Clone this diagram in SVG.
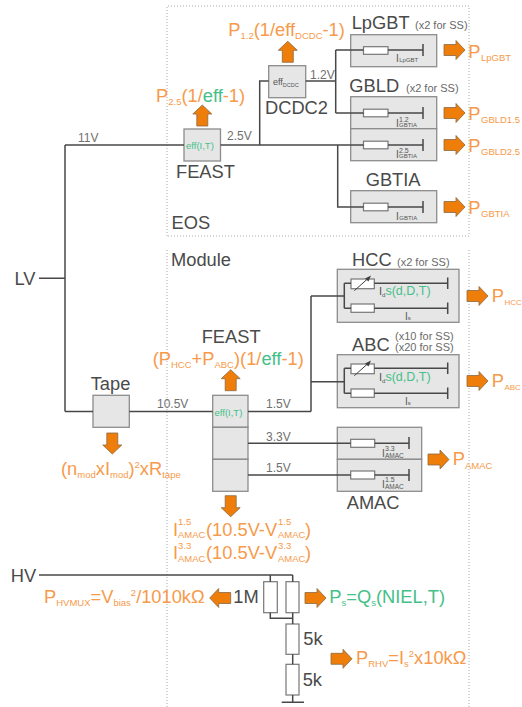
<svg xmlns="http://www.w3.org/2000/svg" width="522" height="707" viewBox="0 0 522 707">
<style>
text{font-family:"Liberation Sans",Arial,sans-serif;fill:#4a4a4a}
.o,.o tspan{fill:#f79a4a}
.g{fill:#45c088}
.t18{font-size:18.3px}
.t11{font-size:11px;fill:#6a6a6a}
.t12{font-size:12px;fill:#707070}
.lbl{font-size:18.3px;fill:#f79a4a}
.s{font-size:9.5px}
.s8{font-size:8px}
.i{font-size:10px;fill:#555}
.si{font-size:6px;fill:#555}
.box{fill:#e6e6e6;stroke:#8c8c8c;stroke-width:1.3}
.res{fill:#fff;stroke:#777;stroke-width:1.2}
.w{fill:none;stroke:#484848;stroke-width:1.5}
.dot{fill:none;stroke:#aaa;stroke-width:1;stroke-dasharray:1 2}
.arr{fill:#ee7d0a;stroke:#8a6a45;stroke-width:.8}
</style>
<defs>
<path id="a" class="arr" d="M0,-5.5H12V-9.5L21,0L12,9.5V5.5H0Z"/>
</defs>
<g id="regions">
<path class="dot" d="M167,236V6H469V236H167"/>
<path class="dot" d="M167,707V249M469,707V249"/>
<text x="171.500" y="229" class="t18">EOS</text>
<text x="171" y="266" class="t18">Module</text>
</g>
<g id="feast-eos">
<rect class="box" x="184" y="129" width="36.500" height="32"/>
<text x="186" y="148.500" style="font-size:9.500px" class="g">eff(I,T)</text>
<text x="176" y="178" class="t18">FEAST</text>
<text x="227" y="140" class="t12">2.5V</text>
<text x="78" y="141.500" class="t12">11V</text>
<use href="#a" transform="translate(202.300,126) rotate(-90)"/>
<text x="156" y="101.700" class="lbl">P<tspan class="s" dy="3">2.5</tspan><tspan dy="-3">(1/</tspan><tspan class="g">eff</tspan><tspan>-1)</tspan></text>
</g>
<g id="dcdc2">
<rect class="box" x="268.700" y="65.700" width="37" height="32"/>
<text x="273" y="85" style="font-size:9px;fill:#555">eff<tspan style="font-size:5.500px" dy="1.500">DCDC</tspan></text>
<text x="265" y="114" class="t18">DCDC2</text>
<text x="310" y="79" class="t12">1.2V</text>
<use href="#a" transform="translate(287.800,62.300) rotate(-90)"/>
<text x="228.300" y="36" class="lbl">P<tspan class="s" dy="3">1.2</tspan><tspan dy="-3">(1/eff</tspan><tspan class="s" dy="3">DCDC</tspan><tspan dy="-3">-1)</tspan></text>
</g>
<g id="lpgbt">
<rect class="box" x="350.700" y="34.700" width="86" height="32"/>
<rect class="res" x="363.500" y="46.700" width="24.500" height="7.600"/>
<text x="396" y="62" class="i">I<tspan class="si" dx="0.500">LpGBT</tspan></text>
<text x="351.700" y="29.300" class="t18">LpGBT</text>
<text x="415" y="29.300" class="t11">(x2 for SS)</text>
<use href="#a" x="444" y="50"/>
<text x="468.300" y="58" class="lbl">P<tspan class="s" dx="0.500" dy="3">LpGBT</tspan></text>
</g>
<g id="gbld">
<rect class="box" x="350.700" y="96.700" width="86" height="32"/>
<rect class="box" x="350.700" y="128.700" width="86" height="32"/>
<rect class="res" x="363.500" y="109.200" width="24.500" height="7.600"/>
<rect class="res" x="363.500" y="141.200" width="24.500" height="7.600"/>
<text x="396" y="127" class="i">I</text><text x="399" y="121.500" class="si" style="font-size:7px">1.2</text><text x="399" y="126.500" class="si">GBTIA</text>
<text x="396" y="158" class="i">I</text><text x="399" y="152.500" class="si" style="font-size:7px">2.5</text><text x="399" y="157.500" class="si">GBTIA</text>
<text x="349.300" y="92.300" class="t18">GBLD</text>
<text x="406" y="92.300" class="t11">(x2 for SS)</text>
<use href="#a" x="444" y="113"/>
<use href="#a" x="444" y="145"/>
<text x="468.300" y="120" class="lbl">P<tspan class="s" dx="0.500" dy="3">GBLD1.5</tspan></text>
<text x="468.300" y="152" class="lbl">P<tspan class="s" dx="0.500" dy="3">GBLD2.5</tspan></text>
</g>
<g id="gbtia">
<rect class="box" x="350.700" y="190.700" width="86" height="32"/>
<rect class="res" x="363.500" y="203.200" width="24.500" height="7.600"/>
<text x="396" y="220" class="i">I<tspan class="si" dx="0.500">GBTIA</tspan></text>
<text x="365.700" y="185.700" class="t18">GBTIA</text>
<use href="#a" x="444" y="207"/>
<text x="468.300" y="214" class="lbl">P<tspan class="s" dx="0.500" dy="3">GBTIA</tspan></text>
</g>
<g id="hcc">
<rect class="box" x="337.300" y="269.300" width="121.700" height="53"/>
<rect class="res" x="351" y="279" width="23.300" height="9.700"/>
<rect class="res" x="351" y="304" width="23.300" height="8.300"/>
<path d="M354.300,290.700L368,278.500" stroke="#404040" fill="none"/><path d="M371,275.500L365,278.500L368.500,281.500Z" fill="#404040"/>
<text x="379" y="295" class="i" style="font-size:11px">I<tspan class="si" dy="2">d</tspan><tspan class="g" dy="-2" style="font-size:12.500px;fill:#45c088">s(d,D,T)</tspan></text>
<text x="405" y="320" class="i">I<tspan class="si">s</tspan></text>
<text x="352" y="266" class="t18">HCC</text>
<text x="397" y="266" class="t11">(x2 for SS)</text>
<use href="#a" x="467" y="296"/>
<text x="491.700" y="302" class="lbl">P<tspan class="s8" dx="0.500" dy="3">HCC</tspan></text>
</g>
<g id="abc">
<rect class="box" x="337.300" y="354.700" width="121.700" height="53"/>
<rect class="res" x="351" y="364" width="23.300" height="9.700"/>
<rect class="res" x="351" y="389" width="23.300" height="8.300"/>
<path d="M354.300,375.700L368,363.500" stroke="#404040" fill="none"/><path d="M371,360.500L365,363.500L368.500,366.500Z" fill="#404040"/>
<text x="379" y="381" class="i" style="font-size:11px">I<tspan class="si" dy="2">d</tspan><tspan class="g" dy="-2" style="font-size:12.500px;fill:#45c088">s(d,D,T)</tspan></text>
<text x="405" y="405" class="i">I<tspan class="si">s</tspan></text>
<text x="352" y="351" class="t18">ABC</text>
<text x="395" y="340" class="t11">(x10 for SS)</text>
<text x="395" y="351" class="t11">(x20 for SS)</text>
<use href="#a" x="467" y="381"/>
<text x="491.700" y="387" class="lbl">P<tspan class="s8" dx="0.500" dy="3">ABC</tspan></text>
</g>
<g id="tape">
<rect class="box" x="93" y="395.300" width="36.300" height="32"/>
<text x="90.700" y="390" class="t18">Tape</text>
<text x="157" y="408" class="t12">10.5V</text>
<use href="#a" transform="translate(112.300,433) rotate(90)"/>
<text x="61" y="475" class="lbl">(n<tspan class="s" dy="3">mod</tspan><tspan dy="-3">xI</tspan><tspan class="s" dy="3">mod</tspan><tspan dy="-3">)</tspan><tspan class="s" dy="-7">2</tspan><tspan dy="7">xR</tspan><tspan class="s" dy="3">tape</tspan></text>
</g>
<g id="feast-module">
<rect class="box" x="212.700" y="395.300" width="35.300" height="32"/>
<rect class="box" x="212.700" y="427.300" width="35.300" height="32"/>
<rect class="box" x="212.700" y="459.300" width="35.300" height="32"/>
<text x="214.500" y="416" style="font-size:9.500px" class="g">eff(I,T)</text>
<text x="201.700" y="343" class="t18">FEAST</text>
<text x="266" y="408" class="t12">1.5V</text>
<text x="266" y="441" class="t12">3.3V</text>
<text x="266" y="472" class="t12">1.5V</text>
<use href="#a" transform="translate(230.700,390.700) rotate(-90)"/>
<use href="#a" transform="translate(230.700,495.700) rotate(90)"/>
<text x="152.700" y="365" class="lbl">(P<tspan class="s" dy="3">HCC</tspan><tspan dy="-3">+P</tspan><tspan class="s" dy="3">ABC</tspan><tspan dy="-3">)(1/</tspan><tspan class="g">eff</tspan><tspan>-1)</tspan></text>
<text x="173" y="535.700" class="lbl">I</text><text x="178" y="525" class="s" style="fill:#f79a4a">1.5</text><text x="178" y="538" class="s" style="fill:#f79a4a">AMAC</text><text x="206" y="535.700" class="lbl">(10.5V-V</text><text x="278" y="525" class="s" style="fill:#f79a4a">1.5</text><text x="278" y="538" class="s" style="fill:#f79a4a">AMAC</text><text x="305" y="535.700" class="lbl">)</text>
<text x="173" y="559" class="lbl">I</text><text x="178" y="548.500" class="s" style="fill:#f79a4a">3.3</text><text x="178" y="561.500" class="s" style="fill:#f79a4a">AMAC</text><text x="206" y="559" class="lbl">(10.5V-V</text><text x="278" y="548.500" class="s" style="fill:#f79a4a">3.3</text><text x="278" y="561.500" class="s" style="fill:#f79a4a">AMAC</text><text x="305" y="559" class="lbl">)</text>
</g>
<g id="amac">
<rect class="box" x="337.300" y="427.300" width="84.400" height="32"/>
<rect class="box" x="337.300" y="459.300" width="84.400" height="32"/>
<rect class="res" x="350.700" y="439.300" width="24" height="8"/>
<rect class="res" x="350.700" y="471" width="24" height="8"/>
<text x="382" y="457" class="i">I</text><text x="385" y="451" class="si" style="font-size:7px">3.3</text><text x="385" y="458" class="si" style="font-size:6.500px">AMAC</text>
<text x="382" y="488" class="i">I</text><text x="385" y="482" class="si" style="font-size:7px">1.5</text><text x="385" y="489" class="si" style="font-size:6.500px">AMAC</text>
<text x="346.700" y="509" class="t18">AMAC</text>
<use href="#a" x="428" y="459.500"/>
<text x="452.700" y="465" class="lbl">P<tspan class="s" dy="3.500">AMAC</tspan></text>
</g>
<g id="lv"><text x="14.500" y="285" style="font-size:18.300px">LV</text></g>
<g id="hv">
<text x="10.700" y="581.700" style="font-size:18.300px">HV</text>
<rect class="res" x="263.700" y="581.700" width="13.600" height="31"/>
<rect class="res" x="286" y="581.700" width="13" height="31"/>
<rect class="res" x="286" y="624" width="13" height="30.300"/>
<rect class="res" x="286" y="664.300" width="13" height="30.700"/>
<text x="233.300" y="603.300" class="t18">1M</text>
<text x="303.300" y="645" class="t18">5k</text>
<text x="302.700" y="685.600" class="t18">5k</text>
<use href="#a" transform="translate(230.700,598) rotate(180)"/>
<use href="#a" x="305" y="598"/>
<use href="#a" x="331" y="658.800"/>
<text x="44" y="603.300" class="lbl">P<tspan class="s" dy="3">HVMUX</tspan><tspan dy="-3">=V</tspan><tspan class="s" dy="3">bias</tspan><tspan class="s" dy="-10">2</tspan><tspan dy="7">/1010kΩ</tspan></text>
<text x="329.300" y="603.300" class="g" style="font-size:18.300px">P<tspan class="s" dy="3">s</tspan><tspan dy="-3">=Q</tspan><tspan class="s" dy="3">s</tspan><tspan dy="-3">(NIEL,T)</tspan></text>
<text x="356" y="664.300" class="lbl">P<tspan class="s" dy="3">RHV</tspan><tspan dy="-3">=I</tspan><tspan class="s" dy="3">s</tspan><tspan class="s" dy="-10">2</tspan><tspan dy="7">x10kΩ</tspan></text>
</g>
<g id="connectors">
<path class="w" d="M39,278.300H65M65,145V411.500M65,145H184M220.500,145H363.500M388,145H423M259.700,145V81H268.700M305.700,81H335.700M335.700,50V113M335.700,50H363.500M388,50H423M335.700,113H363.500M388,113H423M337.700,145V207H363.500M388,207H423"/>
<path class="w" d="M423,44V56M423,107V119M423,139V151M423,201V213"/>
<path class="w" d="M65,411.500H93M129.300,411.500H212.700M248,411.500H311M311,296V411.500M311,296H344.300M311,381.700H344.300"/>
<path class="w" d="M344.300,283.300V308.300M344.300,283.300H351M344.300,308.300H351M374.300,283.300H447.700M374.300,308.300H447.700M447.700,277.500V289M447.700,302.500V314"/>
<path class="w" d="M344.300,368.300V393.300M344.300,368.300H351M344.300,393.300H351M374.300,368.300H447.700M374.300,393.300H447.700M447.700,362.500V374M447.700,387.500V399"/>
<path class="w" d="M248,443.300H350.700M248,475H350.700M374.700,443.300H409M374.700,475H409M409,437V449M409,469V481"/>
<path class="w" d="M39,575H292.700M270.300,575V581.700M292.700,575V581.700M270.300,612.700V618.300H292.700M292.700,612.700V624M292.700,654.300V664.300M292.700,695V702.300M281.700,702.300H304"/>
</g>
</svg>
